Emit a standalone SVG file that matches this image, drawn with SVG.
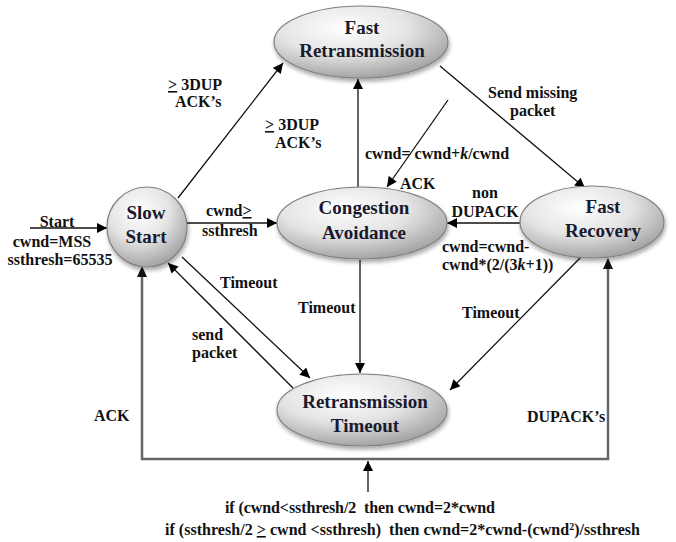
<svg xmlns="http://www.w3.org/2000/svg" width="676" height="542" viewBox="0 0 676 542">
<defs>
<radialGradient id="g" cx="0.4" cy="0.3" r="0.75">
<stop offset="0" stop-color="#ffffff"/>
<stop offset="0.5" stop-color="#e4e4e4"/>
<stop offset="1" stop-color="#9c9c9c"/>
</radialGradient>
<marker id="ah" viewBox="0 0 10 10" refX="10" refY="5" markerWidth="11" markerHeight="10" markerUnits="userSpaceOnUse" orient="auto">
<path d="M0,0 L10,5 L0,10 z" fill="#000"/>
</marker>
<filter id="sh" x="-20%" y="-20%" width="140%" height="150%">
<feGaussianBlur in="SourceAlpha" stdDeviation="2"/>
<feOffset dx="1" dy="3"/>
<feComponentTransfer><feFuncA type="linear" slope="0.35"/></feComponentTransfer>
<feMerge><feMergeNode/><feMergeNode in="SourceGraphic"/></feMerge>
</filter>
</defs>
<style>
.n{fill:url(#g);stroke:#808080;stroke-width:1.2;filter:url(#sh)}
.t{font-family:"Liberation Serif","Times New Roman",serif;font-weight:bold;font-size:19px;fill:#1a1a2e;text-anchor:middle}
.l{font-family:"Liberation Serif","Times New Roman",serif;font-weight:bold;font-size:16px;fill:#111;white-space:pre}
.c{stroke:#111;stroke-width:1.3;fill:none;marker-end:url(#ah)}
.f{stroke:#666;stroke-width:2.5;fill:none}
</style>
<rect width="676" height="542" fill="#fff"/>
<g id="connectors">
<line class="c" x1="30" y1="228" x2="107" y2="228"/>
<line class="c" x1="187" y1="223" x2="277" y2="223"/>
<line class="c" x1="178" y1="198" x2="283" y2="63"/>
<line class="c" x1="358" y1="187" x2="358" y2="79"/>
<line class="c" x1="440" y1="66" x2="585" y2="188"/>
<line class="c" x1="448" y1="100" x2="387" y2="187"/>
<line class="c" x1="520" y1="223" x2="447" y2="223"/>
<line class="c" x1="182" y1="257" x2="310" y2="378"/>
<line class="c" x1="293" y1="388" x2="168" y2="263"/>
<line class="c" x1="360" y1="260" x2="360" y2="373"/>
<line class="c" x1="582" y1="256" x2="450" y2="390"/>
<polyline class="f" points="142,277 142,459 608,459 608,268"/>
<path d="M142,266 L137,277 L147,277 z" fill="#111"/>
<path d="M608,258 L603,269 L613,269 z" fill="#111"/>
<line class="c" x1="368" y1="492" x2="368" y2="461"/>
</g>
<g id="slow-start">
<circle class="n" cx="147" cy="227" r="40"/>
<text class="t" x="146" y="219">Slow</text>
<text class="t" x="146" y="243">Start</text>
</g>
<g id="fast-retransmission">
<ellipse class="n" cx="361" cy="42" rx="87" ry="36"/>
<text class="t" x="362" y="34">Fast</text>
<text class="t" x="362" y="57">Retransmission</text>
</g>
<g id="congestion-avoidance">
<ellipse class="n" cx="362" cy="223" rx="85" ry="36"/>
<text class="t" x="364" y="214">Congestion</text>
<text class="t" x="364" y="239">Avoidance</text>
</g>
<g id="fast-recovery">
<ellipse class="n" cx="592" cy="222" rx="72" ry="36"/>
<text class="t" x="603" y="213">Fast</text>
<text class="t" x="603" y="237">Recovery</text>
</g>
<g id="retransmission-timeout">
<ellipse class="n" cx="362" cy="410" rx="85" ry="36"/>
<text class="t" x="365" y="408">Retransmission</text>
<text class="t" x="365" y="432">Timeout</text>
</g>
<g id="labels">
<text class="l" x="57" y="227" text-anchor="middle">Start</text>
<text class="l" x="52" y="247" text-anchor="middle">cwnd=MSS</text>
<text class="l" x="60" y="265" text-anchor="middle">ssthresh=65535</text>
<text class="l" x="206" y="216">cwnd<tspan text-decoration="underline">&gt;</tspan></text>
<text class="l" x="202" y="236">ssthresh</text>
<text class="l" x="168" y="90"><tspan text-decoration="underline">&gt;</tspan> 3DUP</text>
<text class="l" x="175" y="107">ACK’s</text>
<text class="l" x="265" y="130"><tspan text-decoration="underline">&gt;</tspan> 3DUP</text>
<text class="l" x="275" y="148">ACK’s</text>
<text class="l" x="488" y="98">Send missing</text>
<text class="l" x="510" y="116">packet</text>
<text class="l" x="365" y="159">cwnd= cwnd+<tspan font-style="italic">k</tspan>/cwnd</text>
<text class="l" x="400" y="189">ACK</text>
<text class="l" x="485" y="198" text-anchor="middle">non</text>
<text class="l" x="485" y="217" text-anchor="middle">DUPACK</text>
<text class="l" x="442" y="252">cwnd=cwnd-</text>
<text class="l" x="442" y="270">cwnd*(2/(3<tspan font-style="italic">k</tspan>+1))</text>
<text class="l" x="220" y="288">Timeout</text>
<text class="l" x="192" y="340">send</text>
<text class="l" x="192" y="358">packet</text>
<text class="l" x="298" y="313">Timeout</text>
<text class="l" x="462" y="318">Timeout</text>
<text class="l" x="94" y="421">ACK</text>
<text class="l" x="527" y="422">DUPACK’s</text>
<text class="l" x="225" y="513" font-size="15" textLength="270" lengthAdjust="spacing">if (cwnd&lt;ssthresh/2  then cwnd=2*cwnd</text>
<text class="l" x="165" y="535" font-size="15.5" textLength="475" lengthAdjust="spacing">if (ssthresh/2 <tspan text-decoration="underline">&gt;</tspan> cwnd &lt;ssthresh)  then cwnd=2*cwnd-(cwnd<tspan font-size="10" dy="-5">2</tspan><tspan dy="5">)/ssthresh</tspan></text>
</g>
</svg>
